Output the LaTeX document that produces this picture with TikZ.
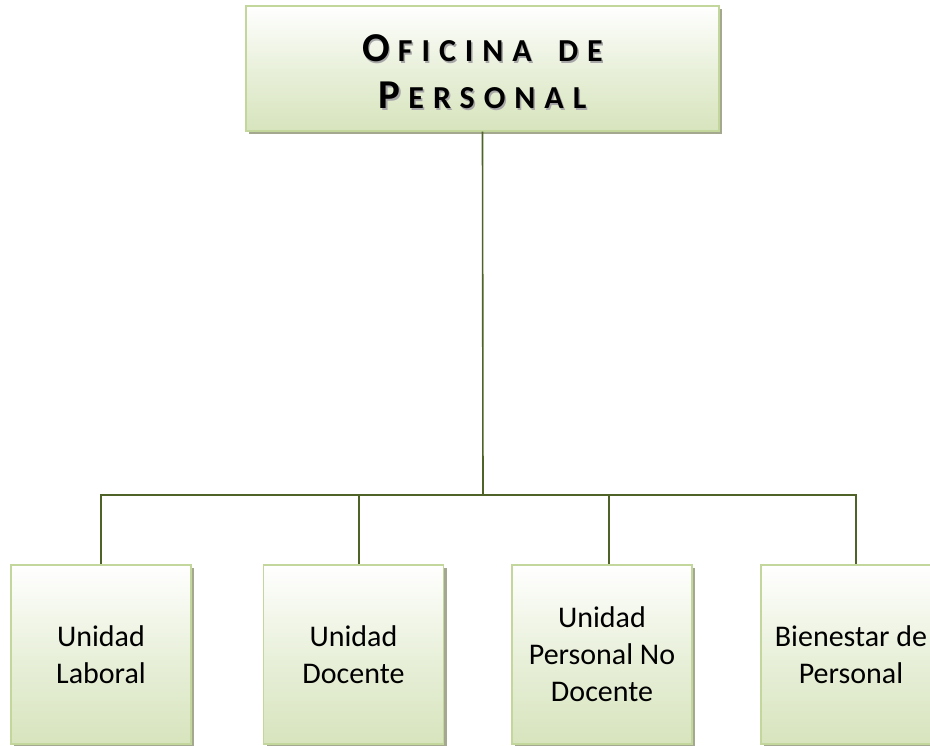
\documentclass[tikz,border=0pt]{standalone}
\usepackage{fontspec}
\setmainfont{Carlito}
\newfontfamily\titlefont[LetterSpace=28]{Carlito}
\usetikzlibrary{shadows}
\definecolor{boxborder}{HTML}{C3D69B}
\definecolor{boxbottom}{HTML}{D7E4BD}
\definecolor{linecol}{HTML}{4F6228}
\definecolor{shadowcol}{HTML}{A3A88F}
\newcommand{\titletext}{%
  {\fontsize{41}{47}\selectfont O}\hspace{8pt}{\fontsize{32}{47}\selectfont FICINA\hspace{10pt} DE}\\
  {\fontsize{41}{47}\selectfont P}\hspace{8pt}{\fontsize{32}{47}\selectfont ERSONAL}}
\begin{document}
\begin{tikzpicture}[x=1pt,y=-1pt,
  orgbox/.style={draw=boxborder, line width=1.5pt, top color=white, bottom color=boxbottom,
    middle color=boxbottom!55!white,
    drop shadow={shadow xshift=3pt, shadow yshift=-3pt, fill=shadowcol, opacity=1},
    inner sep=0pt, align=center},
  unitbox/.style={orgbox, minimum width=180pt, minimum height=179pt,
    font=\fontsize{30}{37}\selectfont},
  titlestyle/.style={align=center, inner sep=0pt, font=\titlefont\bfseries\fontsize{32}{47}\selectfont},
  conn/.style={draw=linecol, line width=1.6pt}]
\useasboundingbox (0,0) rectangle (930,746);
\begin{scope}
\clip (0,0) rectangle (930,746);
\node[orgbox, minimum width=473pt, minimum height=125pt] (top) at (482.5,68.5) {};
\node[titlestyle, text=gray!70] (titleshadow) at (484,73.5) {\titletext};
\node[titlestyle, text=black] (title) at (482.5,72) {\titletext};
\node[unitbox] (u1) at (101,654.5) {Unidad\\Laboral};
\node[unitbox] (u2) at (353.5,654.5) {Unidad\\Docente};
\node[unitbox] (u3) at (602,654.5) {Unidad\\Personal No\\Docente};
\node[unitbox] (u4) at (851,654.5) {Bienestar de\\Personal};
\coordinate (bus) at (483,495);
\draw[conn] (top.south) -- (bus);
\draw[conn] (bus) -| (u1.north);
\draw[conn] (bus) -| ([xshift=5.5pt]u2.north);
\draw[conn] (bus) -| ([xshift=7pt]u3.north);
\draw[conn] (bus) -| ([xshift=5pt]u4.north);
\end{scope}
\end{tikzpicture}
\end{document}
